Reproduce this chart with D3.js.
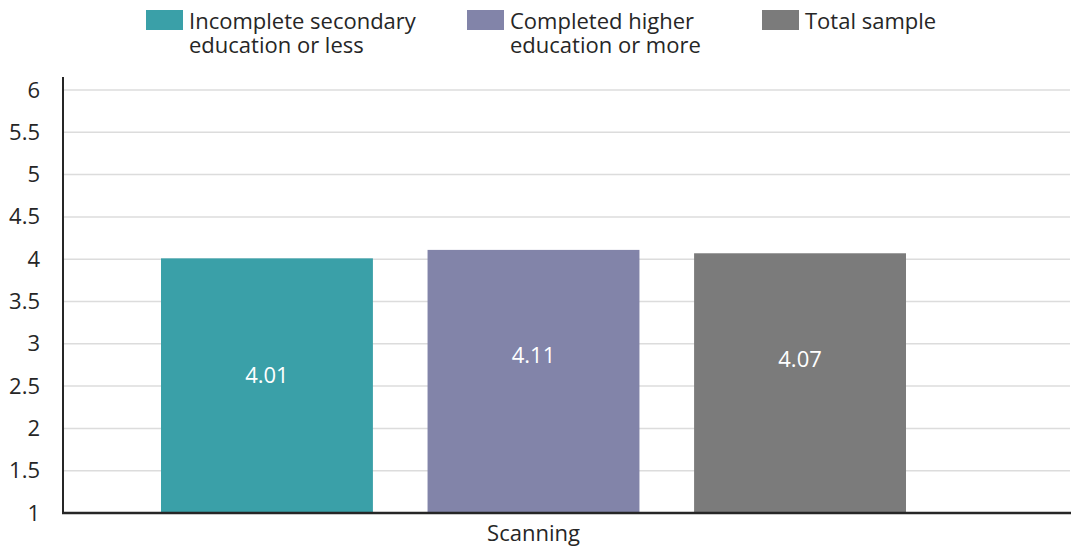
<!DOCTYPE html>
<html>
<head>
<meta charset="utf-8">
<script src="https://cdn.jsdelivr.net/npm/d3@7"></script>
<style>
  html, body { margin: 0; padding: 0; background: #fff; }
  svg text { font-family: "Open Sans", "Noto Sans", sans-serif; }
</style>
</head>
<body>
<svg id="chart" width="1072" height="552"></svg>
<script>
// Data
const categories = ["Scanning"];
const seriesNames = [
  ["Incomplete secondary", "education or less"],
  ["Completed higher", "education or more"],
  ["Total sample"]
];
const seriesValues = [[4.01], [4.11], [4.07]];
const seriesColors = ["#3aa0a8", "#8284a9", "#7b7b7b"];
const yTicks = [1, 1.5, 2, 2.5, 3, 3.5, 4, 4.5, 5, 5.5, 6];

// Layout
const svg = d3.select("#chart");
const plotLeft = 63, plotRight = 1070, plotTop = 77, axisY = 513;
const textColor = "#262626";
const fontSize = 22;

const y = d3.scaleLinear().domain([1, 6]).range([axisY, 90]);
const x0 = d3.scaleBand().domain(categories).range([plotLeft, 1004]).paddingInner(0).paddingOuter(0);
const x1 = d3.scaleBand().domain(d3.range(seriesNames.length))
  .range([98, x0.bandwidth() - 98]).paddingInner(0.205).paddingOuter(0);

// Gridlines
svg.append("g")
  .selectAll("line")
  .data(yTicks.filter(t => t > 1))
  .join("line")
  .attr("x1", plotLeft).attr("x2", plotRight)
  .attr("y1", d => y(d)).attr("y2", d => y(d))
  .attr("stroke", "#dcdcdc").attr("stroke-width", 1.5);

// Y axis
const yAxis = svg.append("g")
  .attr("transform", `translate(${plotLeft},0)`)
  .call(d3.axisLeft(y).tickValues(yTicks).tickSize(0).tickPadding(23).tickFormat(d3.format("")));
yAxis.select(".domain").remove();
yAxis.selectAll("text")
  .attr("fill", textColor)
  .style("font-size", fontSize + "px");
svg.append("line")
  .attr("x1", plotLeft).attr("x2", plotLeft)
  .attr("y1", plotTop).attr("y2", axisY)
  .attr("stroke", textColor).attr("stroke-width", 2);

// Bars with value labels
const labelShift = [-10, -25, -23];
const groups = svg.append("g")
  .selectAll("g")
  .data(categories)
  .join("g")
  .attr("transform", d => `translate(${x0(d)},0)`);

seriesValues.forEach((vals, si) => {
  categories.forEach((cat, ci) => {
    const v = vals[ci];
    const g = groups.filter(d => d === cat);
    g.append("rect")
      .attr("x", x1(si))
      .attr("y", y(v))
      .attr("width", x1.bandwidth())
      .attr("height", y(1) - y(v))
      .attr("fill", seriesColors[si]);
    g.append("text")
      .attr("x", x1(si) + x1.bandwidth() / 2)
      .attr("y", (y(v) + y(1)) / 2 + 7 + labelShift[si])
      .attr("text-anchor", "middle")
      .attr("fill", "#fff")
      .style("font-size", fontSize + "px")
      .text(d3.format(".2f")(v));
  });
});

// X axis
svg.append("line")
  .attr("x1", plotLeft - 1).attr("x2", 1071)
  .attr("y1", axisY).attr("y2", axisY)
  .attr("stroke", textColor).attr("stroke-width", 2.5);
svg.append("g")
  .selectAll("text")
  .data(categories)
  .join("text")
  .attr("x", d => x0(d) + x0.bandwidth() / 2)
  .attr("y", 541)
  .attr("text-anchor", "middle")
  .attr("fill", textColor)
  .style("font-size", fontSize + "px")
  .text(d => d);

// Legend
const legendX = [146, 467, 762];
const legend = svg.append("g")
  .selectAll("g")
  .data(seriesNames)
  .join("g")
  .attr("transform", (d, i) => `translate(${legendX[i]},0)`);
legend.append("rect")
  .attr("x", 0).attr("y", 10)
  .attr("width", 37).attr("height", 20)
  .attr("fill", (d, i) => seriesColors[i]);
legend.selectAll("text")
  .data(d => d)
  .join("text")
  .attr("x", 43)
  .attr("y", (d, i) => 29 + i * 24)
  .attr("fill", textColor)
  .style("font-size", fontSize + "px")
  .text(d => d);
</script>
</body>
</html>
